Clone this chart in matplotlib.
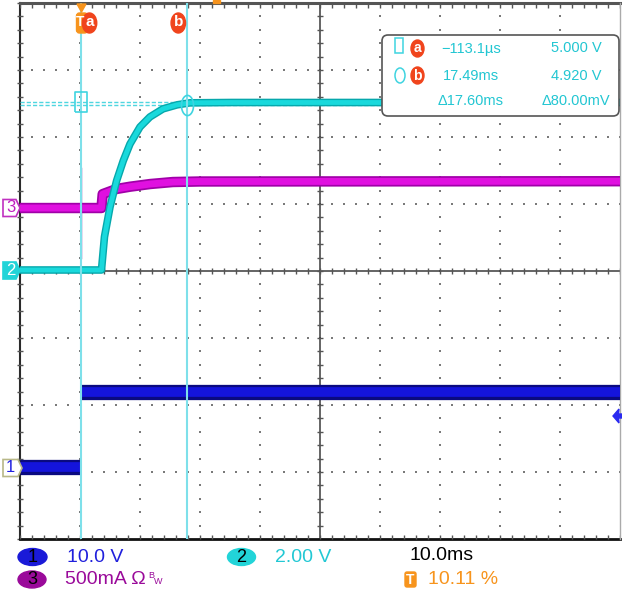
import numpy as np
import matplotlib.pyplot as plt
from matplotlib.patches import FancyBboxPatch, Ellipse, Polygon, Rectangle

plt.rcParams['font.family'] = ['Liberation Sans', 'DejaVu Sans']

W, H = 622, 592

# timebase: 10 ms/div, 10 divisions across the screen
T_LEFT = -10.28
MS_PER_DIV = 10.0

# channel 1 - input voltage (10 V/div)
ch1_time = [-10.28, -0.113, -0.113, 89.72]
ch1_volts = [0.0, 0.0, 11.2, 11.2]

# channel 2 - output voltage (2 V/div)
ch2_time = [-10.28, 3.3, 3.8, 4.72, 5.83, 6.93, 8.05, 9.72, 11.38, 13.55, 15.9, 18.05, 25.0, 89.72]
ch2_volts = [0.0, 0.0, 0.99, 1.88, 2.67, 3.26, 3.76, 4.27, 4.57, 4.81, 4.93, 4.99, 5.0, 5.0]

# channel 3 - current (500 mA/div)
ch3_time = [-10.28, 3.3, 3.5, 5.8, 8.05, 11.4, 15.2, 19.7, 89.72]
ch3_amps = [0.0, 0.0, 0.104, 0.142, 0.159, 0.179, 0.194, 0.198, 0.2]
ch3_spike_time = -0.113
ch3_spike_amps = [-0.37, 0.30]

# cursors
cursor_times = [-0.1131, 17.49]   # ms
cursor_volts = [5.000, 4.920]     # V (ch2)
readout_rows = [("\u2212113.1\u00b5s", "5.000 V"),
                ("17.49ms", "4.920 V"),
                ("\u039417.60ms", "\u039480.00mV")]

# vertical scale (units/div) and ground position (div from centre)
CH1_SCALE, CH1_POS = 10.0, -2.925
CH2_SCALE, CH2_POS = 2.0, 0.015
CH3_SCALE, CH3_POS = 0.5, 0.94

CYAN = '#19d9dc'
CYAN_TXT = '#22c6d2'
BLUE = '#1414dc'
MAGENTA = '#e010e0'
PURPLE = '#9a0a9a'
ORANGE = '#f7941d'
RED = '#f0441c'

fig = plt.figure(figsize=(W / 100, H / 100), dpi=100)
rect = [20 / W, 53 / H, 600 / W, 536 / H]
tr = fig.dpi_scale_trans


def P(x, y):
    return (x / 100.0, (H - y) / 100.0)


def channel_axes(scale, pos, z):
    a = fig.add_axes(rect, zorder=z)
    a.set_xlim(T_LEFT, T_LEFT + 10 * MS_PER_DIV)
    a.set_ylim((-4 - pos) * scale, (4 - pos) * scale)
    a.axis('off')
    a.patch.set_alpha(0)
    return a


# graticule in divisions
g = fig.add_axes(rect, zorder=0)
g.set_xlim(0, 10)
g.set_ylim(-4, 4)
g.axis('off')
mx = np.arange(0, 10.001, 0.2)
my = np.arange(-4, 4.001, 0.2)
for xv in range(1, 10):
    if xv != 5:
        g.scatter(np.full_like(my, xv), my, s=1.6, marker='s', color='#7a7a7a', lw=0)
for yv in range(-3, 4):
    if yv != 0:
        g.scatter(mx, np.full_like(mx, yv), s=1.6, marker='s', color='#7a7a7a', lw=0)
g.axvline(5, color='#3a3a3a', lw=1.1)
g.axhline(0, color='#3a3a3a', lw=1.1)
g.plot(np.full_like(my, 5), my, ls='none', marker='_', ms=5, mew=1, color='#555555')
g.plot(mx, np.zeros_like(mx), ls='none', marker='|', ms=5, mew=1, color='#555555')
# frame with ticks
g.plot([0, 0], [-4, 4], color='#2a2a2a', lw=1.5, clip_on=False)
g.plot(np.zeros_like(my), my, ls='none', marker='_', ms=4, mew=1, color='#555555', clip_on=False)
g.plot([0, 10], [4, 4], color='#555555', lw=2.2, clip_on=False)
g.plot(mx, np.full_like(mx, 3.97), ls='none', marker='|', ms=4, mew=1, color='#555555')
g.plot([0, 10], [-4, -4], color='#111111', lw=2.0, clip_on=False)
g.plot(mx, np.full_like(mx, -3.97), ls='none', marker='|', ms=3.5, mew=1, color='#555555')
g.plot([10, 10], [-4, 4], color='#aaaaaa', lw=1.0, clip_on=False)

# channel 1
ax1 = channel_axes(CH1_SCALE, CH1_POS, 1)
for seg in (slice(0, 2), slice(2, 4)):
    ax1.plot(ch1_time[seg], ch1_volts[seg], color='#0a0a80', lw=11, solid_capstyle='butt')
    ax1.plot(ch1_time[seg], ch1_volts[seg], color=BLUE, lw=7, solid_capstyle='butt')

# channel 3
ax3 = channel_axes(CH3_SCALE, CH3_POS, 2)
ax3.plot(ch3_time, ch3_amps, color='#a000a8', lw=7.5, solid_capstyle='butt')
ax3.plot(ch3_time, ch3_amps, color=MAGENTA, lw=5, solid_capstyle='butt')
ax3.plot([ch3_spike_time, ch3_spike_time], ch3_spike_amps, color='#9040b0', lw=1)

# channel 2 + cursors
ax2 = channel_axes(CH2_SCALE, CH2_POS, 3)
for v in cursor_volts:
    ax2.axhline(v, color='#4fd6e0', lw=1, dashes=(3, 1.5), zorder=1)
ax2.plot(ch2_time, ch2_volts, color='#06a8ac', lw=5.5, zorder=2)
ax2.plot(ch2_time, ch2_volts, color=CYAN, lw=3.5, zorder=2)
for t in cursor_times:
    ax2.axvline(t, color='#7ee0ea', lw=1.5, zorder=5)
box_marker = [(-0.6, -1), (0.6, -1), (0.6, 1), (-0.6, 1), (-0.6, -1)]
ang = np.linspace(0, 2 * np.pi, 40)
oval_marker = list(zip(0.6 * np.cos(ang), np.sin(ang)))
ax2.plot(cursor_times[0], cursor_volts[0], marker=box_marker, ms=14.5, mfc='none',
         mec='#3fd4e0', mew=1.2, zorder=6)
ax2.plot(cursor_times[1], cursor_volts[1], marker=oval_marker, ms=14.5, mfc='none',
         mec='#3fd4e0', mew=1.2, zorder=6)

# cursor tags at the top
fig.patches.append(Polygon([P(77, 4), P(86, 4), P(81.5, 12)], closed=True, color=ORANGE,
                           transform=tr, zorder=10))
fig.patches.append(FancyBboxPatch(P(76.5, 33), 0.11, 0.20,
                                  boxstyle='round,pad=0,rounding_size=0.03',
                                  color=ORANGE, transform=tr, zorder=10))
fig.text(*P(80, 22), 'T', color='white', fontsize=10, fontweight='bold', ha='center',
         va='center', transform=tr, zorder=11)
for (cx, lab) in [(89.5, 'a'), (178.3, 'b')]:
    fig.patches.append(Ellipse(P(cx, 23), 0.145, 0.20, color=RED, transform=tr, zorder=11))
    fig.text(*P(cx, 22.5), lab, color='white', fontsize=11, fontweight='bold', ha='center',
             va='center', transform=tr, zorder=12)
fig.patches.append(Rectangle(P(213, 3), 0.07, 0.03, color=ORANGE, transform=tr, zorder=10))

# cursor readout
fig.patches.append(FancyBboxPatch(P(382, 116), 2.37, 0.81,
                                  boxstyle='round,pad=0,rounding_size=0.06',
                                  facecolor='white', edgecolor='#555555', lw=1.2,
                                  transform=tr, zorder=20))
fig.patches.append(Rectangle(P(395, 53), 0.08, 0.15, fill=False, edgecolor='#3fd4e0',
                             lw=1.1, transform=tr, zorder=21))
fig.patches.append(Ellipse(P(400, 75.5), 0.10, 0.15, fill=False, edgecolor='#3fd4e0',
                           lw=1.1, transform=tr, zorder=21))
for (cy, lab) in [(48.5, 'a'), (75.5, 'b')]:
    fig.patches.append(Ellipse(P(417.5, cy), 0.13, 0.17, color=RED, transform=tr, zorder=21))
    fig.text(*P(417.5, cy), lab, color='white', fontsize=10, fontweight='bold', ha='center',
             va='center', transform=tr, zorder=22)
for (cy, (tval, vval)) in zip([48.5, 75.5, 101], readout_rows):
    fig.text(*P(471, cy), tval, color=CYAN_TXT, fontsize=10.5, ha='center', va='center',
             transform=tr, zorder=22)
    fig.text(*P(576, cy), vval, color=CYAN_TXT, fontsize=10.5, ha='center', va='center',
             transform=tr, zorder=22)


# channel ground markers on the left
def ground_tag(yc, label, face, edge, txt, x1=20):
    pts = [P(3, yc - 8.5), P(x1 - 4, yc - 8.5), P(x1, yc), P(x1 - 4, yc + 8.5), P(3, yc + 8.5)]
    fig.patches.append(Polygon(pts, closed=True, facecolor=face, edgecolor=edge, lw=1.2,
                               transform=tr, zorder=10))
    fig.text(*P(10.5, yc), label, color=txt, fontsize=12, ha='center', va='center',
             transform=tr, zorder=11)


ground_tag(208, '3', 'white', '#c030c0', '#c020c0')
ground_tag(270.5, '2', '#22d4d8', '#22d4d8', 'white')
ground_tag(468, '1', 'white', '#b8b888', '#2020e0', x1=22)

# channel 1 offset arrow on the right
fig.patches.append(Polygon([P(613, 416), P(619, 409), P(618.5, 414), P(622, 414),
                            P(622, 418), P(618.5, 418), P(619, 423)], closed=True,
                           color='#2a2af0', transform=tr, zorder=10))

# status line
fig.patches.append(Ellipse(P(32.5, 557), 0.29, 0.17, color='#1a1ad8', transform=tr))
fig.text(*P(32.5, 557), '1', fontsize=13, ha='center', va='center', color='black', transform=tr)
fig.text(*P(67, 557), '10.0 V', fontsize=14, ha='left', va='center', color='#2020dc', transform=tr)
fig.patches.append(Ellipse(P(241.5, 557), 0.28, 0.17, color='#22d4d8', transform=tr))
fig.text(*P(241.5, 557), '2', fontsize=13, ha='center', va='center', color='black', transform=tr)
fig.text(*P(275, 557), '2.00 V', fontsize=14, ha='left', va='center', color='#22c8d4', transform=tr)
fig.text(*P(410, 556), '10.0ms', fontsize=14, ha='left', va='center', color='black', transform=tr)

fig.patches.append(Ellipse(P(32, 579.5), 0.28, 0.17, color=PURPLE, transform=tr))
fig.text(*P(32, 579.5), '3', fontsize=13, ha='center', va='center', color='black', transform=tr)
fig.text(*P(65, 579), '500mA \u03a9', fontsize=14, ha='left', va='center', color=PURPLE, transform=tr)
fig.text(*P(148, 575), 'B', fontsize=6.5, ha='left', va='center', color=PURPLE, transform=tr)
fig.text(*P(154, 582), 'W', fontsize=6.5, ha='left', va='center', color=PURPLE, transform=tr)
fig.patches.append(FancyBboxPatch(P(405, 587), 0.11, 0.15,
                                  boxstyle='round,pad=0,rounding_size=0.02',
                                  color=ORANGE, transform=tr))
fig.text(*P(410.5, 579.5), 'T', fontsize=10, fontweight='bold', ha='center', va='center',
         color='white', transform=tr)
fig.text(*P(428, 579), '10.11 %', fontsize=14, ha='left', va='center', color=ORANGE, transform=tr)

fig.savefig('out.png', dpi=100)
